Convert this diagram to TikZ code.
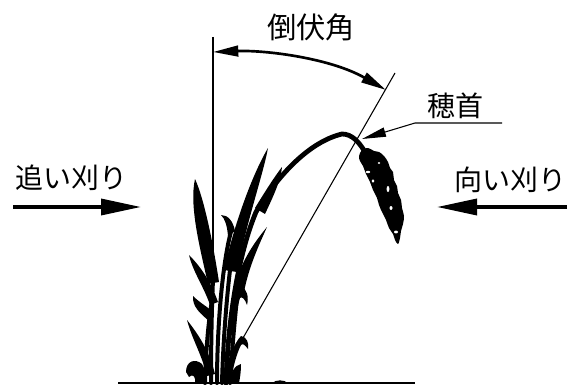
\documentclass[tikz,border=0pt]{standalone}
\usepackage{fontspec}
\newfontfamily\jpfont{Noto Sans CJK JP}
\usetikzlibrary{arrows.meta}
\begin{document}
\begin{tikzpicture}[x=0.75pt,y=-0.75pt,
  lbl/.style={font=\jpfont\fontsize{21pt}{24pt}\selectfont, inner sep=0pt, text=black},
  guide/.style={line width=0.9pt, black},
  bigarrow/.style={line width=2.6pt, -{Triangle[length=30pt,width=12pt]}},
  anglearrow/.style={line width=2pt, {Triangle[length=19pt,width=8pt]}-{Triangle[length=19pt,width=8pt]}},
  leader/.style={line width=0.8pt, -{Triangle[length=18pt,width=7pt]}},
  culm/.style={line width=3pt, line cap=round},
  neck/.style={line width=3.6pt, line cap=round},
  ink/.style={fill=black},
  spot/.style={fill=white}
]
\useasboundingbox (0,0) rectangle (575,385);

% ---- reference lines of the lodging angle ----
\coordinate (vtop) at (213,37);
\coordinate (vbot) at (213,280);
\coordinate (itop) at (395,73);
\coordinate (ibot) at (243,338);
\draw[guide] (vtop) -- (vbot);
\draw[line width=0.8pt] (itop) -- (ibot);

% angle arrow
\coordinate (a1) at (213,52);
\coordinate (a2) at (386,90);
\draw[anglearrow] (a1) .. controls (265,50) and (330,58) .. (a2);

% ---- labels ----
\node[lbl, font=\jpfont\fontsize{22pt}{24pt}\selectfont] (title) at (311,27) {倒伏角};
\node[lbl] (chase) at (72,178) {追い刈り};
\node[lbl] (facing) at (510,180) {向い刈り};
\node[lbl] (head) at (455,106) {穂首};

% cutting directions
\coordinate (la0) at (13,207);
\coordinate (la1) at (141,207);
\coordinate (ra0) at (567,207);
\coordinate (ra1) at (437,207);
\draw[bigarrow] (la0) -- (la1);
\draw[bigarrow] (ra0) -- (ra1);

% leader to the panicle neck
\coordinate (ul) at (502,123);
\coordinate (knee) at (415,123);
\coordinate (neckpt) at (362,139);
\draw[leader] (ul) -- (knee) -- (neckpt);

% ---- ground ----
\coordinate (g0) at (118,383);
\coordinate (g1) at (415,383);
\draw[line width=1.5pt] (g0) -- (g1);
\fill[ink] (272,383) .. controls (276,379.5) and (284,379.5) .. (288,383) -- cycle;
\fill[ink] (365,381.8) rectangle (412,383.5);

% ---- rice plant ----
% stems
\draw[culm] (205,383) .. controls (206,350) and (208,325) .. (212,300);
\draw[culm] (211,383) .. controls (211,340) and (212,300) .. (213,280);
\draw[culm] (217,383) .. controls (217,330) and (222,262) .. (232,228);
\draw[culm] (222,383) .. controls (223,345) and (226,305) .. (230,270);
\draw[culm] (230,383) .. controls (232,350) and (235,315) .. (238,290);
% culm carrying the panicle
\draw[neck] (226,383) .. controls (228,320) and (238,255) .. (256,212)
  .. controls (276,178) and (308,142) .. (342,134)
  .. controls (352,134) and (359,142) .. (365,152);

% leaf blades
\fill[ink] (195,179) .. controls (203,196) and (212,236) .. (219,282) -- (208,284)
  .. controls (200,248) and (189,206) .. (195,179) -- cycle;
\fill[ink] (268,148) .. controls (263,175) and (247,220) .. (237,272) -- (224,270)
  .. controls (234,225) and (252,175) .. (268,148) -- cycle;
\fill[ink] (255,208) .. controls (266,190) and (275,176) .. (282,167)
  .. controls (281,180) and (273,197) .. (265,214) -- cycle;
\fill[ink] (267,227) .. controls (259,245) and (249,266) .. (244,292) -- (234,290)
  .. controls (240,263) and (253,244) .. (267,227) -- cycle;
\fill[ink] (189,255) .. controls (201,267) and (211,282) .. (218,302) -- (210,305)
  .. controls (204,287) and (193,272) .. (189,255) -- cycle;
\fill[ink] (187,320) .. controls (198,334) and (209,350) .. (215,374) -- (207,376)
  .. controls (202,355) and (192,339) .. (187,320) -- cycle;

% curled leaf tips
\fill[ink] (235,231) .. controls (233,221) and (228,215) .. (221,215)
  .. controls (225,219) and (227,225) .. (228,236) -- cycle;
\fill[ink] (209,321) .. controls (201,314) and (192,307) .. (193,296)
  .. controls (199,302) and (206,306) .. (212,311) -- cycle;
\fill[ink] (227,334) .. controls (230,312) and (235,293) .. (241,286)
  .. controls (247,289) and (249,297) .. (247,305)
  .. controls (245,299) and (242,296) .. (240,298)
  .. controls (237,308) and (235,320) .. (234,336) -- cycle;
\fill[ink] (223,380) .. controls (227,362) and (234,343) .. (241,336)
  .. controls (247,337) and (249,343) .. (248,349)
  .. controls (245,345) and (243,343) .. (241,345)
  .. controls (237,353) and (233,366) .. (231,382) -- cycle;
\fill[ink] (186,372) .. controls (186,361) and (195,358) .. (202,364)
  .. controls (206,370) and (206,378) .. (204,383) -- (195,383)
  .. controls (196,377) and (193,373) .. (189,377) -- cycle;
\fill[ink] (229,383) .. controls (230,373) and (235,365) .. (241,364)
  .. controls (241,372) and (240,378) .. (239,383) -- cycle;

% panicle
\fill[ink] plot[smooth cycle, tension=0.6] coordinates {
  (359,156) (362,150) (368,148) (374,151) (379,152) (384,156) (388,162)
  (390,168) (393,172) (394,180) (397,186) (398,193) (401,200) (402,208)
  (404,216) (403,224) (401,231) (400,238) (398,244) (395,240) (393,234)
  (389,228) (386,220) (382,212) (379,205) (377,198) (373,190) (370,182)
  (366,174) (363,166) (360,161)};
\fill[spot] (368,172) ellipse (2.2 and 1.2);
\fill[spot] (373,181) ellipse (1.4 and 1.8);
\fill[spot] (388,189) ellipse (1.4 and 3);
\fill[spot] (391,208) ellipse (1.5 and 2);
\fill[spot] (396,232) ellipse (2 and 1.4);
\fill[spot] (379,163) ellipse (1.3 and 1);
\end{tikzpicture}
\end{document}
